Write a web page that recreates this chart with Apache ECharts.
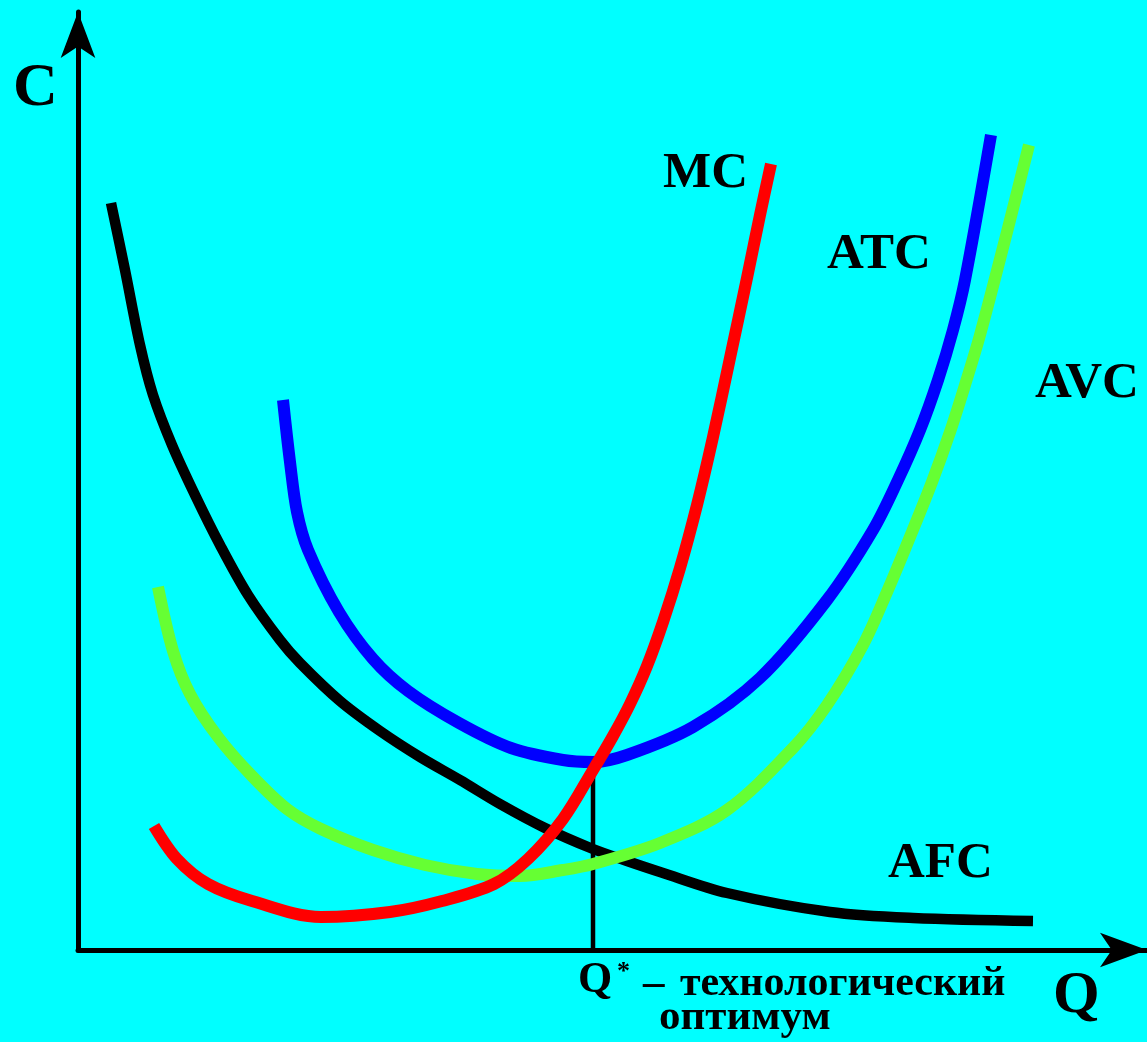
<!DOCTYPE html>
<html>
<head>
<meta charset="utf-8">
<script src="https://cdn.jsdelivr.net/npm/echarts@6/dist/echarts.min.js"></script>
<style>
html,body{margin:0;padding:0;background:#00FFFF;}
#chart{width:1147px;height:1042px;}
</style>
</head>
<body>
<div id="chart"></div>
<script>
// Quantity (Q) and cost (C) values (arbitrary units)
const afcData = [[3.3,74.7],[4.7,68.0],[6.2,60.5],[7.5,55.5],[9.4,50.5],[11.7,45.5],[14.2,40.5],[17.0,35.5],[20.2,31.0],[22.2,28.7],[26.2,24.9],[30.2,21.9],[34.2,19.3],[38.2,17.0],[42.2,14.6],[46.7,12.2],[51.5,10.1],[54.9,8.9],[58.2,7.8],[64.9,5.7],[75.2,3.8],[83.5,3.2],[95.5,2.9]];
const atcData = [[20.5,55.0],[21.2,48.8],[21.9,43.8],[23.0,40.0],[26.1,33.8],[29.5,29.1],[33.0,25.9],[38.1,22.7],[43.3,20.2],[48.5,19.0],[51.5,18.8],[54.9,19.5],[61.5,22.3],[68.2,27.2],[74.9,35.0],[79.5,42.0],[82.0,47.0],[84.2,52.0],[86.0,57.0],[87.5,62.0],[88.7,67.0],[91.3,81.5]];
const avcData = [[8.0,36.3],[9.5,29.9],[11.2,25.6],[14.0,21.3],[17.4,17.4],[20.9,14.1],[24.3,12.1],[29.5,10.0],[34.7,8.5],[39.9,7.6],[44.2,7.4],[48.5,8.0],[51.5,8.6],[58.2,10.7],[64.9,14.0],[71.5,20.2],[74.9,24.5],[78.5,30.5],[80.9,35.8],[83.4,41.8],[85.4,46.8],[87.2,51.8],[88.7,56.5],[90.2,61.5],[92.9,71.8],[95.1,80.5]];
const mcData = [[7.6,12.4],[9.9,9.1],[13.0,6.6],[17.4,4.9],[24.3,3.3],[31.2,3.8],[36.4,4.9],[41.6,6.6],[45.0,9.1],[48.5,13.1],[51.5,18.0],[53.5,21.4],[55.2,24.6],[56.9,28.4],[58.5,32.8],[60.2,38.2],[61.9,44.5],[63.5,51.3],[65.2,59.2],[66.9,67.2],[68.2,73.5],[69.3,78.6]];
const qStar = 51.5;
const qStarCost = 18.9;
const labels = {c: 'C', q: 'Q', mc: 'MC', atc: 'ATC', avc: 'AVC', afc: 'AFC', qs: 'Q', star: '*', dash: '–', tech: 'технологический', opt: 'оптимум'};

const FONT = '"Liberation Serif","Times New Roman",serif';
function txt(t, x, y, size, sx) {
  return {type: 'text', x: x, y: y, scaleX: sx || 1, z: 100,
    style: {text: t, x: 0, y: 0, font: 'bold ' + size + 'px ' + FONT, fill: '#000', verticalAlign: 'middle', align: 'left'}};
}

const chart = echarts.init(document.getElementById('chart'));
const lineSeries = (name, data, color, width, z) => ({
  name: name, type: 'line', data: data, showSymbol: false, smooth: 0.33,
  lineStyle: {color: color, width: width, cap: 'butt', join: 'round'}, z: z, silent: true, animation: false
});
chart.setOption({
  backgroundColor: '#00FFFF',
  animation: false,
  grid: {left: 78, right: 0, top: 12, bottom: 92, containLabel: false},
  xAxis: {type: 'value', min: 0, max: 106.9,
    axisLine: {show: true, onZero: false, symbol: ['none', 'arrow'], symbolSize: [26, 47], lineStyle: {color: '#000', width: 5}},
    axisTick: {show: false}, axisLabel: {show: false}, splitLine: {show: false}},
  yAxis: {type: 'value', min: 0, max: 93.8,
    axisLine: {show: true, onZero: false, symbol: ['none', 'arrow'], symbolSize: [26, 46], lineStyle: {color: '#000', width: 5}},
    axisTick: {show: false}, axisLabel: {show: false}, splitLine: {show: false}},
  series: [
    {type: 'line', data: [[qStar, 0], [qStar, qStarCost]], showSymbol: false, lineStyle: {color: '#000', width: 4.5}, z: 1, silent: true},
    lineSeries('AFC', afcData, '#000000', 10.5, 2),
    lineSeries('ATC', atcData, '#0000FF', 12, 3),
    lineSeries('AVC', avcData, '#66FF33', 12, 4),
    lineSeries('MC', mcData, '#FF0000', 12, 5)
  ],
  graphic: [
    txt(labels.c, 13, 89, 62),
    txt(labels.mc, 663, 174, 51),
    txt(labels.atc, 827, 255, 51),
    txt(labels.avc, 1035, 384, 51),
    txt(labels.afc, 888, 864, 51),
    txt(labels.qs, 578, 981, 44),
    txt(labels.star, 617, 972, 26),
    txt(labels.dash, 643, 984, 43),
    txt(labels.tech, 680, 984, 43, 0.975),
    txt(labels.opt, 659, 1018, 43),
    txt(labels.q, 1053, 996, 60)
  ]
});
</script>
</body>
</html>
